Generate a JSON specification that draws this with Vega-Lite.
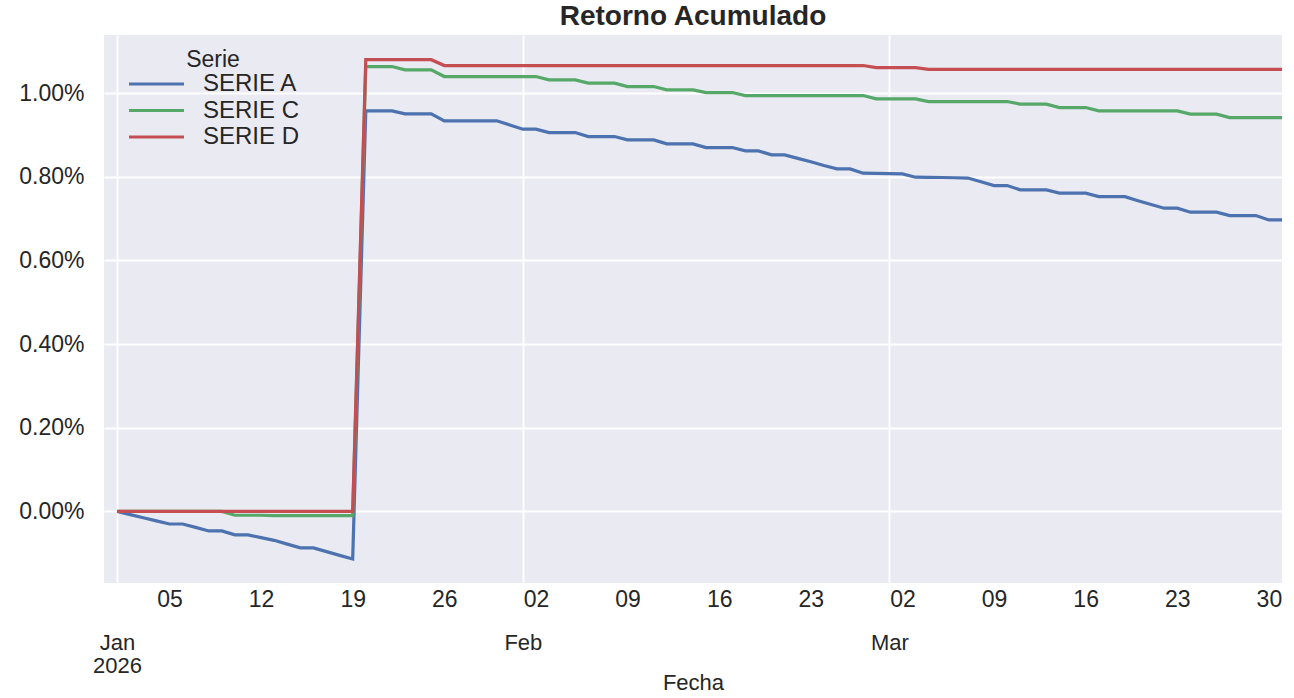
{
  "$schema": "https://vega.github.io/schema/vega-lite/v6.json",
  "width": 1178,
  "height": 548,
  "autosize": {"type": "none"},
  "padding": {"left": 104, "top": 35, "right": 12, "bottom": 115},
  "background": "white",
  "title": {"text": "Retorno Acumulado", "font": "Liberation Sans", "fontSize": 28, "fontWeight": "bold", "color": "#262626", "anchor": "middle", "frame": "group", "offset": 4},
  "config": {
    "font": "Liberation Sans",
    "view": {"fill": "#EAEAF2", "stroke": null},
    "axis": {"labelFont": "Liberation Sans", "titleFont": "Liberation Sans", "labelColor": "#262626", "titleColor": "#262626", "labelFontSize": 23, "titleFontSize": 22, "titleFontWeight": "normal", "domain": false, "ticks": false, "tickSize": 0, "gridColor": "white", "gridWidth": 1.8, "gridOpacity": 1, "labelFlush": false, "labelOverlap": false, "labelBound": false}
  },
  "datasets": {
    "ret": [
      {"Fecha": "2026/01/01", "SERIE A": 0, "SERIE C": 0, "SERIE D": 0},
      {"Fecha": "2026/01/02", "SERIE A": -0.0075, "SERIE C": 0, "SERIE D": 0},
      {"Fecha": "2026/01/03", "SERIE A": -0.015, "SERIE C": 0, "SERIE D": 0},
      {"Fecha": "2026/01/04", "SERIE A": -0.0225, "SERIE C": 0, "SERIE D": 0},
      {"Fecha": "2026/01/05", "SERIE A": -0.03, "SERIE C": 0, "SERIE D": 0},
      {"Fecha": "2026/01/06", "SERIE A": -0.03, "SERIE C": 0, "SERIE D": 0},
      {"Fecha": "2026/01/07", "SERIE A": -0.038, "SERIE C": 0, "SERIE D": 0},
      {"Fecha": "2026/01/08", "SERIE A": -0.0466, "SERIE C": 0, "SERIE D": 0},
      {"Fecha": "2026/01/09", "SERIE A": -0.0466, "SERIE C": 0, "SERIE D": 0},
      {"Fecha": "2026/01/10", "SERIE A": -0.056, "SERIE C": -0.009, "SERIE D": 0},
      {"Fecha": "2026/01/11", "SERIE A": -0.056, "SERIE C": -0.009, "SERIE D": 0},
      {"Fecha": "2026/01/12", "SERIE A": -0.0625, "SERIE C": -0.009, "SERIE D": 0},
      {"Fecha": "2026/01/13", "SERIE A": -0.069, "SERIE C": -0.01, "SERIE D": 0},
      {"Fecha": "2026/01/14", "SERIE A": -0.078, "SERIE C": -0.01, "SERIE D": 0},
      {"Fecha": "2026/01/15", "SERIE A": -0.087, "SERIE C": -0.01, "SERIE D": 0},
      {"Fecha": "2026/01/16", "SERIE A": -0.087, "SERIE C": -0.01, "SERIE D": 0},
      {"Fecha": "2026/01/17", "SERIE A": -0.096, "SERIE C": -0.01, "SERIE D": 0},
      {"Fecha": "2026/01/18", "SERIE A": -0.105, "SERIE C": -0.01, "SERIE D": 0},
      {"Fecha": "2026/01/19", "SERIE A": -0.1136, "SERIE C": -0.01, "SERIE D": 0},
      {"Fecha": "2026/01/20", "SERIE A": 0.9577, "SERIE C": 1.0636, "SERIE D": 1.08},
      {"Fecha": "2026/01/21", "SERIE A": 0.9577, "SERIE C": 1.0636, "SERIE D": 1.08},
      {"Fecha": "2026/01/22", "SERIE A": 0.9577, "SERIE C": 1.0636, "SERIE D": 1.08},
      {"Fecha": "2026/01/23", "SERIE A": 0.9505, "SERIE C": 1.0557, "SERIE D": 1.08},
      {"Fecha": "2026/01/24", "SERIE A": 0.9505, "SERIE C": 1.0557, "SERIE D": 1.08},
      {"Fecha": "2026/01/25", "SERIE A": 0.9505, "SERIE C": 1.0557, "SERIE D": 1.08},
      {"Fecha": "2026/01/26", "SERIE A": 0.9338, "SERIE C": 1.0397, "SERIE D": 1.066},
      {"Fecha": "2026/01/27", "SERIE A": 0.9338, "SERIE C": 1.0397, "SERIE D": 1.066},
      {"Fecha": "2026/01/28", "SERIE A": 0.9338, "SERIE C": 1.0397, "SERIE D": 1.066},
      {"Fecha": "2026/01/29", "SERIE A": 0.9338, "SERIE C": 1.0397, "SERIE D": 1.066},
      {"Fecha": "2026/01/30", "SERIE A": 0.9338, "SERIE C": 1.0397, "SERIE D": 1.066},
      {"Fecha": "2026/01/31", "SERIE A": 0.924, "SERIE C": 1.0397, "SERIE D": 1.066},
      {"Fecha": "2026/02/01", "SERIE A": 0.9139, "SERIE C": 1.0397, "SERIE D": 1.066},
      {"Fecha": "2026/02/02", "SERIE A": 0.9139, "SERIE C": 1.0397, "SERIE D": 1.066},
      {"Fecha": "2026/02/03", "SERIE A": 0.9058, "SERIE C": 1.0318, "SERIE D": 1.066},
      {"Fecha": "2026/02/04", "SERIE A": 0.9058, "SERIE C": 1.0318, "SERIE D": 1.066},
      {"Fecha": "2026/02/05", "SERIE A": 0.9058, "SERIE C": 1.0318, "SERIE D": 1.066},
      {"Fecha": "2026/02/06", "SERIE A": 0.8962, "SERIE C": 1.0239, "SERIE D": 1.066},
      {"Fecha": "2026/02/07", "SERIE A": 0.8962, "SERIE C": 1.0239, "SERIE D": 1.066},
      {"Fecha": "2026/02/08", "SERIE A": 0.8962, "SERIE C": 1.0239, "SERIE D": 1.066},
      {"Fecha": "2026/02/09", "SERIE A": 0.8883, "SERIE C": 1.0158, "SERIE D": 1.066},
      {"Fecha": "2026/02/10", "SERIE A": 0.8883, "SERIE C": 1.0158, "SERIE D": 1.066},
      {"Fecha": "2026/02/11", "SERIE A": 0.8883, "SERIE C": 1.0158, "SERIE D": 1.066},
      {"Fecha": "2026/02/12", "SERIE A": 0.8788, "SERIE C": 1.0079, "SERIE D": 1.066},
      {"Fecha": "2026/02/13", "SERIE A": 0.8788, "SERIE C": 1.0079, "SERIE D": 1.066},
      {"Fecha": "2026/02/14", "SERIE A": 0.8788, "SERIE C": 1.0079, "SERIE D": 1.066},
      {"Fecha": "2026/02/15", "SERIE A": 0.8699, "SERIE C": 1.0014, "SERIE D": 1.066},
      {"Fecha": "2026/02/16", "SERIE A": 0.8699, "SERIE C": 1.0014, "SERIE D": 1.066},
      {"Fecha": "2026/02/17", "SERIE A": 0.8699, "SERIE C": 1.0014, "SERIE D": 1.066},
      {"Fecha": "2026/02/18", "SERIE A": 0.862, "SERIE C": 0.9943, "SERIE D": 1.066},
      {"Fecha": "2026/02/19", "SERIE A": 0.862, "SERIE C": 0.9943, "SERIE D": 1.066},
      {"Fecha": "2026/02/20", "SERIE A": 0.8525, "SERIE C": 0.9943, "SERIE D": 1.066},
      {"Fecha": "2026/02/21", "SERIE A": 0.8525, "SERIE C": 0.9943, "SERIE D": 1.066},
      {"Fecha": "2026/02/22", "SERIE A": 0.844, "SERIE C": 0.9943, "SERIE D": 1.066},
      {"Fecha": "2026/02/23", "SERIE A": 0.836, "SERIE C": 0.9943, "SERIE D": 1.066},
      {"Fecha": "2026/02/24", "SERIE A": 0.827, "SERIE C": 0.9943, "SERIE D": 1.066},
      {"Fecha": "2026/02/25", "SERIE A": 0.819, "SERIE C": 0.9943, "SERIE D": 1.066},
      {"Fecha": "2026/02/26", "SERIE A": 0.819, "SERIE C": 0.9943, "SERIE D": 1.066},
      {"Fecha": "2026/02/27", "SERIE A": 0.8087, "SERIE C": 0.9943, "SERIE D": 1.066},
      {"Fecha": "2026/02/28", "SERIE A": 0.8082, "SERIE C": 0.9864, "SERIE D": 1.061},
      {"Fecha": "2026/03/01", "SERIE A": 0.8078, "SERIE C": 0.9864, "SERIE D": 1.061},
      {"Fecha": "2026/03/02", "SERIE A": 0.807, "SERIE C": 0.9864, "SERIE D": 1.061},
      {"Fecha": "2026/03/03", "SERIE A": 0.7991, "SERIE C": 0.9864, "SERIE D": 1.061},
      {"Fecha": "2026/03/04", "SERIE A": 0.7987, "SERIE C": 0.9799, "SERIE D": 1.057},
      {"Fecha": "2026/03/05", "SERIE A": 0.7983, "SERIE C": 0.9799, "SERIE D": 1.057},
      {"Fecha": "2026/03/06", "SERIE A": 0.7978, "SERIE C": 0.9799, "SERIE D": 1.057},
      {"Fecha": "2026/03/07", "SERIE A": 0.797, "SERIE C": 0.9799, "SERIE D": 1.057},
      {"Fecha": "2026/03/08", "SERIE A": 0.788, "SERIE C": 0.9799, "SERIE D": 1.057},
      {"Fecha": "2026/03/09", "SERIE A": 0.779, "SERIE C": 0.9799, "SERIE D": 1.057},
      {"Fecha": "2026/03/10", "SERIE A": 0.779, "SERIE C": 0.9799, "SERIE D": 1.057},
      {"Fecha": "2026/03/11", "SERIE A": 0.7688, "SERIE C": 0.9737, "SERIE D": 1.057},
      {"Fecha": "2026/03/12", "SERIE A": 0.7688, "SERIE C": 0.9737, "SERIE D": 1.057},
      {"Fecha": "2026/03/13", "SERIE A": 0.7688, "SERIE C": 0.9737, "SERIE D": 1.057},
      {"Fecha": "2026/03/14", "SERIE A": 0.7609, "SERIE C": 0.9656, "SERIE D": 1.057},
      {"Fecha": "2026/03/15", "SERIE A": 0.7609, "SERIE C": 0.9656, "SERIE D": 1.057},
      {"Fecha": "2026/03/16", "SERIE A": 0.7609, "SERIE C": 0.9656, "SERIE D": 1.057},
      {"Fecha": "2026/03/17", "SERIE A": 0.7527, "SERIE C": 0.9577, "SERIE D": 1.057},
      {"Fecha": "2026/03/18", "SERIE A": 0.7527, "SERIE C": 0.9577, "SERIE D": 1.057},
      {"Fecha": "2026/03/19", "SERIE A": 0.7527, "SERIE C": 0.9577, "SERIE D": 1.057},
      {"Fecha": "2026/03/20", "SERIE A": 0.743, "SERIE C": 0.9577, "SERIE D": 1.057},
      {"Fecha": "2026/03/21", "SERIE A": 0.734, "SERIE C": 0.9577, "SERIE D": 1.057},
      {"Fecha": "2026/03/22", "SERIE A": 0.725, "SERIE C": 0.9577, "SERIE D": 1.057},
      {"Fecha": "2026/03/23", "SERIE A": 0.725, "SERIE C": 0.9577, "SERIE D": 1.057},
      {"Fecha": "2026/03/24", "SERIE A": 0.7154, "SERIE C": 0.9498, "SERIE D": 1.057},
      {"Fecha": "2026/03/25", "SERIE A": 0.7154, "SERIE C": 0.9498, "SERIE D": 1.057},
      {"Fecha": "2026/03/26", "SERIE A": 0.7154, "SERIE C": 0.9498, "SERIE D": 1.057},
      {"Fecha": "2026/03/27", "SERIE A": 0.7073, "SERIE C": 0.9417, "SERIE D": 1.057},
      {"Fecha": "2026/03/28", "SERIE A": 0.7073, "SERIE C": 0.9417, "SERIE D": 1.057},
      {"Fecha": "2026/03/29", "SERIE A": 0.7073, "SERIE C": 0.9417, "SERIE D": 1.057},
      {"Fecha": "2026/03/30", "SERIE A": 0.697, "SERIE C": 0.9417, "SERIE D": 1.057},
      {"Fecha": "2026/03/31", "SERIE A": 0.697, "SERIE C": 0.9417, "SERIE D": 1.057}
    ],
    "months": [
      {"Fecha": "2026/01/01"},
      {"Fecha": "2026/02/01"},
      {"Fecha": "2026/03/01"}
    ]
  },
  "layer": [
    {
      "data": {"name": "ret"},
      "transform": [{"fold": ["SERIE A", "SERIE C", "SERIE D"], "as": ["Serie", "Retorno"]}],
      "mark": {"type": "line", "strokeWidth": 3.2, "clip": true},
      "encoding": {
        "x": {
          "field": "Fecha", "type": "temporal",
          "scale": {"domain": [{"year": 2025, "month": 12, "date": 31}, {"year": 2026, "month": 3, "date": 31}]},
          "axis": {
            "orient": "bottom", "title": null, "grid": false, "format": "%d", "labelPadding": 5,
            "values": [
              {"year": 2026, "month": 1, "date": 5}, {"year": 2026, "month": 1, "date": 12}, {"year": 2026, "month": 1, "date": 19}, {"year": 2026, "month": 1, "date": 26},
              {"year": 2026, "month": 2, "date": 2}, {"year": 2026, "month": 2, "date": 9}, {"year": 2026, "month": 2, "date": 16}, {"year": 2026, "month": 2, "date": 23},
              {"year": 2026, "month": 3, "date": 2}, {"year": 2026, "month": 3, "date": 9}, {"year": 2026, "month": 3, "date": 16}, {"year": 2026, "month": 3, "date": 23}, {"year": 2026, "month": 3, "date": 30}
            ]
          }
        },
        "y": {
          "field": "Retorno", "type": "quantitative",
          "scale": {"domain": [-0.171, 1.139], "nice": false, "zero": false},
          "axis": {"title": null, "grid": true, "values": [0, 0.2, 0.4, 0.6, 0.8, 1.0], "labelExpr": "format(datum.value, '.2f') + '%'", "labelPadding": 20}
        },
        "color": {
          "field": "Serie", "type": "nominal",
          "scale": {"domain": ["SERIE A", "SERIE C", "SERIE D"], "range": ["#4C72B0", "#55A868", "#C44E52"]},
          "legend": {
            "title": "Serie", "orient": "none", "legendX": 23, "legendY": 14,
            "symbolType": "stroke", "symbolSize": 3025, "symbolStrokeWidth": 3.2, "clipHeight": 22,
            "labelFont": "Liberation Sans", "titleFont": "Liberation Sans",
            "labelFontSize": 24, "titleFontSize": 23, "titleFontWeight": "normal",
            "labelColor": "#262626", "titleColor": "#262626",
            "titleAnchor": "middle", "labelOffset": 17, "rowPadding": 2.5, "titlePadding": 1
          }
        }
      }
    },
    {
      "data": {"name": "months"},
      "mark": {"type": "rule", "opacity": 0},
      "encoding": {
        "x": {
          "field": "Fecha", "type": "temporal",
          "scale": {"domain": [{"year": 2025, "month": 12, "date": 31}, {"year": 2026, "month": 3, "date": 31}]},
          "axis": {
            "orient": "bottom", "title": "Fecha", "grid": true, "labelFontSize": 22, "labelPadding": 49, "labelLineHeight": 23, "titlePadding": -4,
            "values": [{"year": 2026, "month": 1, "date": 1}, {"year": 2026, "month": 2, "date": 1}, {"year": 2026, "month": 3, "date": 1}],
            "labelExpr": "month(datum.value) == 0 ? ['Jan', '' + year(datum.value)] : timeFormat(datum.value, '%b')"
          }
        }
      }
    }
  ],
  "resolve": {"axis": {"x": "independent"}}
}
